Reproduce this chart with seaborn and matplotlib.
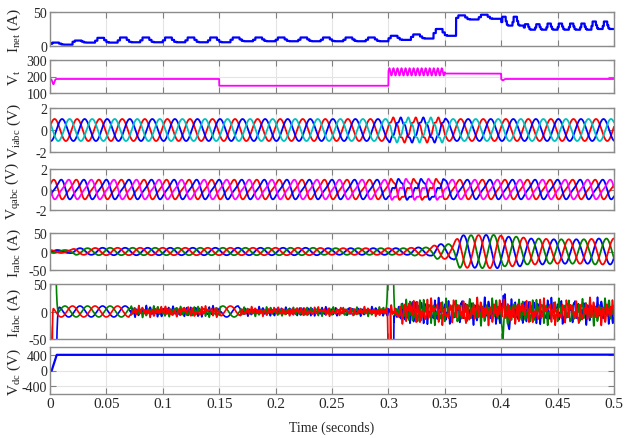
# Formas de onda da simulação (7 painéis empilhados)
import numpy as np
import pandas as pd
import matplotlib
matplotlib.use('Agg')
import matplotlib.pyplot as plt
import seaborn as sns

# ---------------- dados ----------------
f0 = 50  # frequência da rede (Hz)

# I_net: nível baixo e pico por ciclo de 0.02 s (25 ciclos) e nº de pulsos por ciclo
inet_base = [2, 5, 5, 5.5, 5.5, 5.5, 5.5, 5.5, 7, 7, 7, 7, 7, 7, 7, 9, 11, 15, 39, 40, 30, 24, 24, 24, 25]
inet_peak = [5, 8, 12, 12.5, 12.5, 12.5, 12.5, 12.5, 12.5, 12.5, 12.5, 12.5, 12.5, 12.5, 12.5, 15, 17, 25, 45, 46, 43, 32, 33, 33, 36]
inet_pulsos = [1] * 20 + [2] * 5
inet_forma = [0.4, 1, 1, 1, 0.5, 0.1, 0, 0, 0, 0]

# V_t: patamares por trecho, oscilação entre 0.3 e 0.35 s
vt_tempos = [0, 0.15, 0.30, 0.35, 0.40, 0.5]
vt_nivel = [185, 144, 228, 218, 185]
vt_osc = [0, 0, 22, 0, 0]
vt_osc_freq = 280
vt_dip_t = [0.003, 0.4015]
vt_dip_v = [-32, -8]

# tensões de referência (pu) e distorção entre 0.3 e 0.35 s
v_tempos = [0, 0.30, 0.35, 0.5]
v_dist = [0, 0.15, 0]

# I_rabc: amplitude por ciclo de 0.02 s
irabc_amp = [4, 9, 10, 10, 10, 10, 10, 10, 10, 10, 10, 10, 9, 9, 9, 9, 11, 20, 44, 45, 40, 35, 33, 33, 35]

# I_fabc: trechos com componente fundamental e ondulação
if_tempos = [0, 0.071, 0.151, 0.168, 0.30, 0.31, 0.5]
if_fund = [10, 3, 10, 2, 6, 6]
if_ripple = [0, 8, 0, 7, 10, 20]
# picos (fase: 0=azul, 1=verde, 2=vermelho)
pico_fase = [1, 2, 0, 1, 2, 0, 0, 1, 0]
pico_t = [0.003, 0.0012, 0.0035, 0.302, 0.3006, 0.3035, 0.4025, 0.4012, 0.4065]
pico_v = [300, -300, -300, 300, -300, -300, 35, -45, -35]
pico_w = [0.002, 0.0007, 0.002, 0.002, 0.0008, 0.0009, 0.0012, 0.0008, 0.0012]

# V_dc: vértices da curva
vdc_t = [0, 0.0015, 0.006, 0.5]
vdc_v = [0, 0, 400, 405]

# ---------------- montagem dos sinais ----------------
t = np.arange(0, 0.5 + 1e-9, 5e-5)
th = 2 * np.pi * f0 * t
ciclo = np.minimum((t / 0.02).astype(int), 24)


def por_trecho(tempos, valores):
    idx = np.clip(np.searchsorted(tempos, t, side='right') - 1, 0, len(valores) - 1)
    return np.asarray(valores, float)[idx]


def suaviza(x, n=120):
    k = np.ones(n) / n
    xp = np.pad(x, n, mode='edge')
    return np.convolve(xp, k, mode='same')[n:-n]


# I_net
frac = (t % 0.02) / 0.02
fase_pulso = (frac * np.asarray(inet_pulsos)[ciclo]) % 1
passo = np.minimum((fase_pulso * 10).astype(int), 9)
base = np.asarray(inet_base, float)[ciclo]
pico = np.asarray(inet_peak, float)[ciclo]
inet = base + (pico - base) * np.asarray(inet_forma)[passo]

# V_t
vt = por_trecho(vt_tempos, vt_nivel) + por_trecho(vt_tempos, vt_osc) * np.sin(2 * np.pi * vt_osc_freq * t)
for tc, dv in zip(vt_dip_t, vt_dip_v):
    vt = vt + dv * np.exp(-((t - tc) / 0.0012) ** 2)

# V_iabc e V_qabc
dist = suaviza(por_trecho(v_tempos, v_dist), 60)
desloc = [0, -2 * np.pi / 3, 2 * np.pi / 3]
viabc = [np.sin(th + 0.3 + d) + dist * np.sin(5 * (th + d) + 1) for d in desloc]
vq = []
for d in [0.9, 0.9 - 2 * np.pi / 3, 0.9 + 2 * np.pi / 3]:
    x = th + d
    onda = (np.sin(x) - 0.25 * np.sin(2 * x)) / 1.15
    vq.append(onda + dist * 1.2 * np.sin(4 * x + 2))

# I_rabc
env = suaviza(np.asarray(irabc_amp, float)[ciclo])
irabc = [env * np.sin(th - 0.5 + d) for d in desloc]

# I_fabc
fund = suaviza(por_trecho(if_tempos, if_fund), 40)
rip = suaviza(por_trecho(if_tempos, if_ripple), 40)
ifabc = []
for k, d in enumerate(desloc):
    r = (0.5 * np.sin(2 * np.pi * 250 * t + 5 * d) + 0.4 * np.sin(2 * np.pi * 340 * t + 7 * d + 1)
         + 0.25 * np.sin(2 * np.pi * 560 * t + 11 * d + 2) + 0.2 * np.sin(2 * np.pi * 660 * t + 13 * d))
    ifabc.append(fund * np.sin(th - 0.5 + d) + rip * r / 1.1)
for fa, tc, v, w in zip(pico_fase, pico_t, pico_v, pico_w):
    ifabc[fa] = ifabc[fa] + v * np.exp(-((t - tc) / w) ** 2)
# recuperação lenta da fase azul após 0.3 s
ifabc[0] = ifabc[0] - 15 * np.exp(-(t - 0.305) / 0.004) * (t > 0.305)

# ---------------- figura ----------------
sns.set_style('ticks')
plt.rcParams['font.family'] = ['Liberation Serif', 'DejaVu Serif']
plt.rcParams['mathtext.fontset'] = 'custom'
plt.rcParams['mathtext.rm'] = 'Liberation Serif'
plt.rcParams['axes.unicode_minus'] = False

azul, verm, verde, ciano, mag = '#0000ff', '#ff0000', '#008000', '#00bfbf', '#ff00ff'

fig = plt.figure(figsize=(6.25, 4.39), dpi=100)
# (topo, base) de cada painel em pixels
paineis = [(13, 47), (61, 94), (109, 153), (170, 211), (234, 271), (285, 340), (348, 395)]
eixos = []
for topo, fundo in paineis:
    ax = fig.add_axes([50 / 625, 1 - fundo / 439, 564 / 625, (fundo - topo) / 439])
    eixos.append(ax)


def desenha(ax, sinais, cores, lw=1.3):
    df = pd.DataFrame({'t': np.tile(t, len(sinais)),
                       'v': np.concatenate(sinais),
                       'fase': np.repeat(np.arange(len(sinais)), len(t))})
    sns.lineplot(data=df, x='t', y='v', hue='fase', palette=cores, linewidth=lw,
                 estimator=None, sort=False, legend=False, ax=ax)


desenha(eixos[0], [inet], [azul], 1.6)
desenha(eixos[1], [vt], [mag], 1.3)
desenha(eixos[2], viabc, [verm, azul, ciano], 1.3)
desenha(eixos[3], [vq[0], vq[1], vq[2]], [verm, azul, mag], 1.3)
desenha(eixos[4], irabc, [azul, verde, verm], 1.3)
desenha(eixos[5], ifabc, [azul, verde, verm], 1.2)
sns.lineplot(x=vdc_t, y=vdc_v, color=azul, linewidth=1.6, estimator=None, sort=False, ax=eixos[6])

limites = [(0, 50), (100, 300), (-2, 2), (-2, 2), (-50, 50), (-50, 50), (-600, 600)]
yticks = [[0, 50], [100, 200, 300], [-2, 0, 2], [-2, 0, 2], [-50, 0, 50], [-50, 0, 50], [-400, 0, 400]]
rotulos = ['I$_{\\rm net}$ (A)', 'V$_{\\rm t}$', 'V$_{\\rm iabc}$ (V)', 'V$_{\\rm qabc}$ (V)',
           'I$_{\\rm rabc}$ (A)', 'I$_{\\rm fabc}$ (A)', 'V$_{\\rm dc}$ (V)']
xticks = np.round(np.arange(0, 0.501, 0.05), 2)

for i, ax in enumerate(eixos):
    ax.set_xlim(0, 0.5)
    ax.set_ylim(*limites[i])
    ax.set_yticks(yticks[i])
    ax.set_xticks(xticks)
    ax.grid(True, color='#e4e4e4', linewidth=0.8)
    ax.set_axisbelow(True)
    ax.tick_params(direction='in', top=True, right=True, length=4, color='#808080',
                   labelsize=10, pad=2)
    for s in ax.spines.values():
        s.set_color('#8c8c8c')
        s.set_linewidth(1.0)
    ax.set_ylabel(rotulos[i], fontsize=11)
    ax.yaxis.set_label_coords(-0.047, 0.5)
    if i < 6:
        ax.set_xticklabels([])
        ax.set_xlabel('')
    else:
        ax.set_xticklabels([f'{v:g}' for v in xticks], fontsize=11)
        ax.set_xlabel('Time (seconds)', fontsize=10, labelpad=8)

fig.savefig('out.png', dpi=100)
